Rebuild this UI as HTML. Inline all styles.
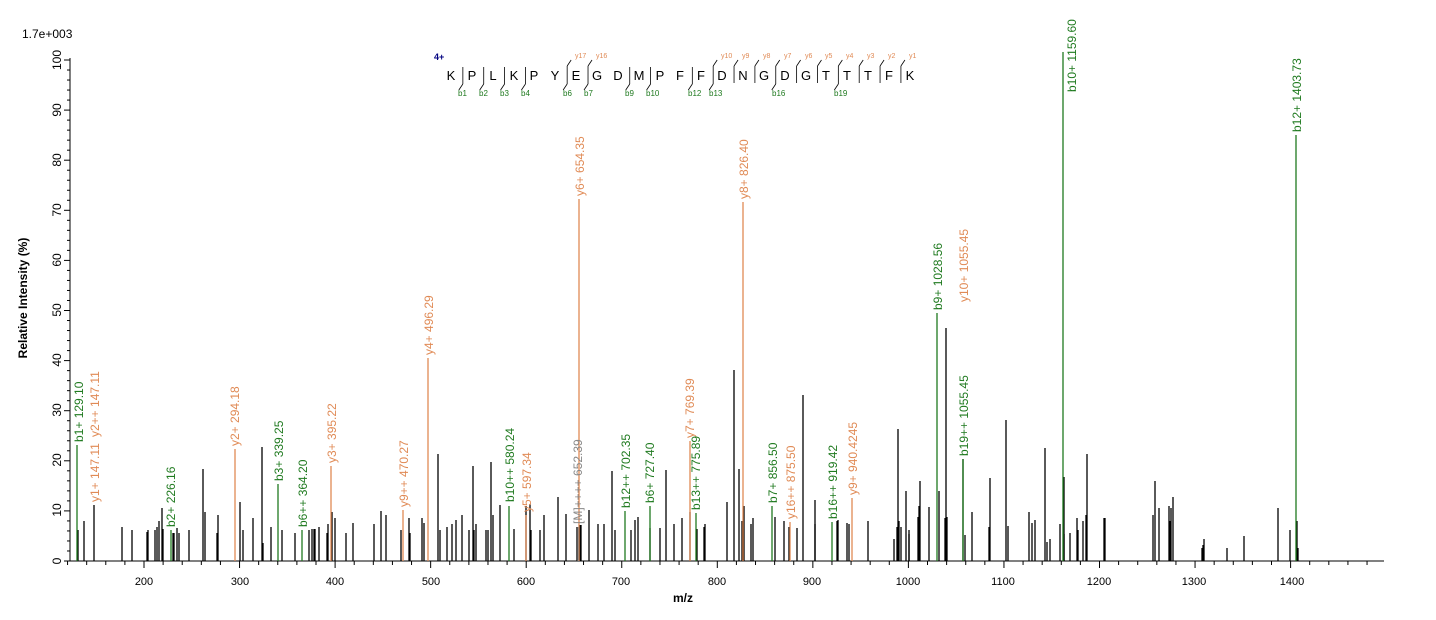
<!DOCTYPE html>
<html><head><meta charset="utf-8"><style>
html,body{margin:0;padding:0;background:#fff;}
svg{display:block;font-family:"Liberation Sans",Arial,sans-serif;}
</style></head><body>
<svg id="s" width="1436" height="620" viewBox="0 0 1436 620" xmlns="http://www.w3.org/2000/svg">
<rect width="1436" height="620" fill="#fff"/>
<g id="axes" stroke="#000" stroke-width="1"></g>
<g id="peaks" stroke-width="1.3"></g>
<g id="seq" stroke="#000" stroke-width="0.8" fill="none"></g>
<text x="22" y="38" font-size="12">1.7e+003</text>
<g font-size="12" text-anchor="middle">
<text transform="translate(61,60) rotate(-90)">100</text>
<text transform="translate(61,110) rotate(-90)">90</text>
<text transform="translate(61,160) rotate(-90)">80</text>
<text transform="translate(61,210) rotate(-90)">70</text>
<text transform="translate(61,260) rotate(-90)">60</text>
<text transform="translate(61,310) rotate(-90)">50</text>
<text transform="translate(61,360) rotate(-90)">40</text>
<text transform="translate(61,410) rotate(-90)">30</text>
<text transform="translate(61,460) rotate(-90)">20</text>
<text transform="translate(61,510) rotate(-90)">10</text>
<text transform="translate(61,561) rotate(-90)">0</text>
</g>
<text transform="translate(27,298) rotate(-90)" font-size="12" font-weight="bold" text-anchor="middle">Relative    Intensity (%)</text>
<g font-size="11" text-anchor="middle">
<text x="144" y="585">200</text><text x="240" y="585">300</text><text x="335" y="585">400</text><text x="431" y="585">500</text><text x="526" y="585">600</text><text x="621" y="585">700</text><text x="717" y="585">800</text><text x="812" y="585">900</text><text x="908" y="585">1000</text><text x="1003" y="585">1100</text><text x="1099" y="585">1200</text><text x="1194" y="585">1300</text><text x="1292" y="585">1400</text>
</g>
<text x="683" y="602" font-size="12" font-weight="bold" text-anchor="middle">m/z</text>
<g font-size="12" id="labels">
<text transform="translate(83,442) rotate(-90)" fill="#1f7a1f">b1+ 129.10</text>
<text transform="translate(99,502) rotate(-90)" fill="#e08a55">y1+ 147.11</text>
<text transform="translate(99,437) rotate(-90)" fill="#e08a55">y2++ 147.11</text>
<text transform="translate(175,527) rotate(-90)" fill="#1f7a1f">b2+ 226.16</text>
<text transform="translate(239,446) rotate(-90)" fill="#e08a55">y2+ 294.18</text>
<text transform="translate(283,481) rotate(-90)" fill="#1f7a1f">b3+ 339.25</text>
<text transform="translate(307,527) rotate(-90)" fill="#1f7a1f">b6++ 364.20</text>
<text transform="translate(336,463) rotate(-90)" fill="#e08a55">y3+ 395.22</text>
<text transform="translate(408,507) rotate(-90)" fill="#e08a55">y9++ 470.27</text>
<text transform="translate(433,355) rotate(-90)" fill="#e08a55">y4+ 496.29</text>
<text transform="translate(514,502) rotate(-90)" fill="#1f7a1f">b10++ 580.24</text>
<text transform="translate(531,512) rotate(-90)" fill="#e08a55">y5+ 597.34</text>
<text transform="translate(582,524) rotate(-90)" fill="#888">[M]++++ 652.39</text>
<text transform="translate(584,196) rotate(-90)" fill="#e08a55">y6+ 654.35</text>
<text transform="translate(630,508) rotate(-90)" fill="#1f7a1f">b12++ 702.35</text>
<text transform="translate(654,503) rotate(-90)" fill="#1f7a1f">b6+ 727.40</text>
<text transform="translate(694,438) rotate(-90)" fill="#e08a55">y7+ 769.39</text>
<text transform="translate(700,510) rotate(-90)" fill="#1f7a1f">b13++ 775.89</text>
<text transform="translate(748,199) rotate(-90)" fill="#e08a55">y8+ 826.40</text>
<text transform="translate(777,503) rotate(-90)" fill="#1f7a1f">b7+ 856.50</text>
<text transform="translate(795,519) rotate(-90)" fill="#e08a55">y16++ 875.50</text>
<text transform="translate(837,519) rotate(-90)" fill="#1f7a1f">b16++ 919.42</text>
<text transform="translate(857,495) rotate(-90)" fill="#e08a55">y9+ 940.4245</text>
<text transform="translate(942,310) rotate(-90)" fill="#1f7a1f">b9+ 1028.56</text>
<text transform="translate(968,456) rotate(-90)" fill="#1f7a1f">b19++ 1055.45</text>
<text transform="translate(968,302) rotate(-90)" fill="#e08a55">y10+ 1055.45</text>
<text transform="translate(1076,92) rotate(-90)" fill="#1f7a1f">b10+ 1159.60</text>
<text transform="translate(1301,132) rotate(-90)" fill="#1f7a1f">b12+ 1403.73</text>
</g>
<text x="434" y="60" font-size="9" fill="#000080" font-weight="bold">4+</text>
<g font-size="13" text-anchor="middle" id="letters">
<text x="451" y="80">K</text><text x="472" y="80">P</text><text x="493" y="80">L</text><text x="514" y="80">K</text><text x="534" y="80">P</text><text x="555" y="80">Y</text><text x="576" y="80">E</text><text x="597" y="80">G</text><text x="618" y="80">D</text><text x="639" y="80">M</text><text x="660" y="80">P</text><text x="680" y="80">F</text><text x="701" y="80">F</text><text x="722" y="80">D</text><text x="743" y="80">N</text><text x="764" y="80">G</text><text x="785" y="80">D</text><text x="806" y="80">G</text><text x="826" y="80">T</text><text x="847" y="80">T</text><text x="868" y="80">T</text><text x="889" y="80">F</text><text x="910" y="80">K</text>
</g>
<g font-size="8" fill="#1f7a1f">
<text x="458" y="96">b1</text><text x="479" y="96">b2</text><text x="500" y="96">b3</text><text x="521" y="96">b4</text><text x="563" y="96">b6</text><text x="584" y="96">b7</text><text x="625" y="96">b9</text><text x="646" y="96">b10</text><text x="688" y="96">b12</text><text x="709" y="96">b13</text><text x="772" y="96">b16</text><text x="834" y="96">b19</text>
</g>
<g font-size="7" fill="#e08a55">
<text x="575" y="58">y17</text><text x="596" y="58">y16</text><text x="721" y="58">y10</text><text x="742" y="58">y9</text><text x="763" y="58">y8</text><text x="784" y="58">y7</text><text x="805" y="58">y6</text><text x="825" y="58">y5</text><text x="846" y="58">y4</text><text x="867" y="58">y3</text><text x="888" y="58">y2</text><text x="909" y="58">y1</text>
</g>
<script>
(function(){
var NS="http://www.w3.org/2000/svg";
function L(g,x1,y1,x2,y2,c,w){var l=document.createElementNS(NS,"line");l.setAttribute("x1",x1);l.setAttribute("y1",y1);l.setAttribute("x2",x2);l.setAttribute("y2",y2);if(c)l.setAttribute("stroke",c);if(w)l.setAttribute("stroke-width",w);g.appendChild(l);}
var ax=document.getElementById("axes");
L(ax,70,58,70,561);L(ax,70,561,1384,561);
for(var v=0;v<=100;v+=2){var y=561-v*5.01;L(ax,v%10==0?64:67,y,70,y);}
for(var m=120;m<=1480;m+=20){var x=144+(m-200)*0.9555;if(x>1384)break;L(ax,x,561,x,m%100==0?568:565);}
var pk=document.getElementById("peaks");
var blk=[[78,530],[84,521],[94,505],[122,527],[132,530],[147,532],[148,530],[155,530],[157,527],[159,521],[162,508],[163,529],[173,533],[174,533],[177,528],[179,533],[189,530],[203,469],[205,512],[217,533],[218,515],[240,502],[243,530],[253,518],[262,447],[263,543],[271,527],[282,530],[295,533],[309,530],[312,529],[314,529],[315,529],[319,527],[327,533],[328,524],[332,512],[335,518],[346,533],[353,523],[374,524],[381,511],[386,515],[401,530],[409,518],[410,533],[422,518],[424,523],[438,454],[440,530],[447,527],[452,524],[456,520],[462,515],[469,530],[473,466],[474,530],[476,524],[486,530],[488,530],[491,462],[493,515],[500,505],[514,529],[526,506],[530,504],[531,530],[540,530],[544,515],[558,497],[566,514],[577,527],[580,525],[581,525],[589,510],[598,524],[604,524],[612,471],[615,530],[631,530],[635,520],[638,517],[650,528],[660,528],[666,470],[674,524],[682,518],[690,512],[697,529],[704,527],[705,524],[727,502],[734,370],[739,469],[742,521],[744,506],[751,524],[753,518],[775,517],[784,521],[789,527],[797,528],[803,395],[815,524],[815,500],[837,521],[838,520],[847,523],[849,524],[868,521],[894,539],[897,527],[898,429],[899,521],[901,527],[906,491],[909,534],[909,530],[918,517],[919,506],[920,481],[929,507],[939,491],[945,518],[946,328],[947,517],[963,459],[965,535],[972,512],[989,527],[990,478],[1006,420],[1008,526],[1029,512],[1032,523],[1035,520],[1045,448],[1047,542],[1050,539],[1060,524],[1064,477],[1064,534],[1070,533],[1077,518],[1078,530],[1083,521],[1086,515],[1087,454],[1104,518],[1105,518],[1153,515],[1155,481],[1159,508],[1169,506],[1170,521],[1171,508],[1173,497],[1202,548],[1203,545],[1204,539],[1227,548],[1244,536],[1278,508],[1290,530],[1297,521],[1298,548]];
blk.forEach(function(p){L(pk,p[0],561,p[0],p[1],"#000");});
var G="#1f7a1f",O="#e08a55";
[[77,445,G],[171,530,G],[278,484,G],[302,530,G],[509,506,G],[625,511,G],[650,506,G],[696,513,G],[772,506,G],[832,522,G],[937,313,G],[963,459,G],[1063,52,G],[1296,135,G],
 [235,449,O],[331,466,O],[403,510,O],[428,358,O],[526,515,O],[579,199,O],[690,441,O],[743,202,O],[790,522,O],[852,498,O],[578,527,"#888"]].forEach(function(p){L(pk,p[0],561,p[0],p[1],p[2]);});
var sq=document.getElementById("seq");
var bi=[1,2,3,4,6,7,9,10,12,13,16,19], yi=[6,7,13,14,15,16,17,18,19,20,21,22];
function bx(i){return 451+i*20.86-9;}
var all={};bi.concat(yi).forEach(function(i){all[i]=1;});
Object.keys(all).forEach(function(k){var i=+k,x=bx(i);var top=yi.indexOf(i)>=0?66:67,bot=bi.indexOf(i)>=0?84:83;L(sq,x,top,x,bot);
 if(bi.indexOf(i)>=0)L(sq,x,84,x-4,90);
 if(yi.indexOf(i)>=0)L(sq,x,66,x+4,60);});
})();
</script>
</svg>
</body></html>
